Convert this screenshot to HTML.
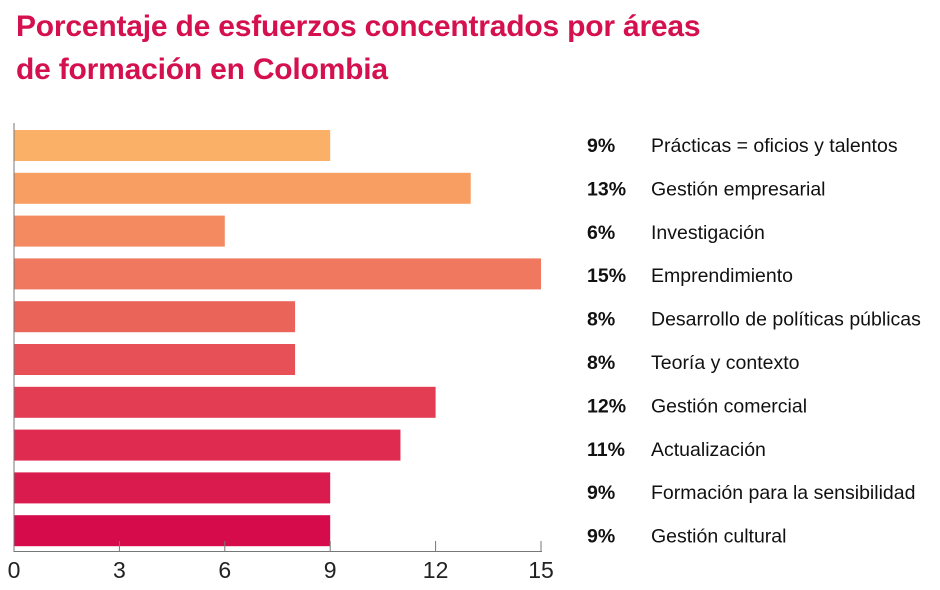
<!DOCTYPE html>
<html><head><meta charset="utf-8"><style>
body{margin:0;background:#fff;width:940px;height:590px;overflow:hidden;font-family:"Liberation Sans",sans-serif}
h1{position:absolute;left:16px;top:5px;margin:0;font-size:30px;line-height:43px;color:#d5104f;font-weight:bold;letter-spacing:-0.2px}
</style></head><body>
<h1>Porcentaje de esfuerzos concentrados por áreas<br>de formación en Colombia</h1>
<svg id="c" width="940" height="590" style="position:absolute;left:0;top:0"></svg>
<script>
const categories=["Prácticas = oficios y talentos","Gestión empresarial","Investigación","Emprendimiento","Desarrollo de políticas públicas","Teoría y contexto","Gestión comercial","Actualización","Formación para la sensibilidad","Gestión cultural"];
const values=[9,13,6,15,8,8,12,11,9,9];
const ticks=[0,3,6,9,12,15];
const colors=["#fbb068","#f89e63","#f48a60","#ef785e","#eb6459","#e75056","#e33d53","#df2b50","#da1b4e","#d60b4b"];
const svg=document.getElementById('c');const NS="http://www.w3.org/2000/svg";
const x=v=>14+v*(541-14)/15;
const y=i=>130+i*42.8;
const ly=i=>152+i*43.4;
function el(t,a){const e=document.createElementNS(NS,t);for(const k in a)e.setAttribute(k,a[k]);svg.appendChild(e);return e;}
values.forEach((v,i)=>{
 const r=el('rect',{x:x(0),y:y(i),width:x(v)-x(0),height:31,fill:colors[i]});
 
 
 const p=el('text',{x:587,y:ly(i),'font-size':19.5,'font-weight':'bold',fill:'#111'});p.textContent=v+'%';
 
 
 const c=el('text',{x:651,y:ly(i),'font-size':19.5,fill:'#111'});c.textContent=categories[i];
 
 
});
const ya=el('line',{x1:14,y1:123,x2:14,y2:552,stroke:'#777','stroke-width':1});


const xa=el('line',{x1:14,y1:551.5,x2:542,y2:551.5,stroke:'#777','stroke-width':1});


ticks.forEach(t=>{
 const l=el('line',{x1:x(t),y1:541,x2:x(t),y2:552,stroke:'#777','stroke-width':1});
 
 
 const tx=el('text',{x:x(t),y:578,'font-size':23,fill:'#222','text-anchor':'middle'});tx.textContent=t;
 
 
});
</script>
</body></html>
